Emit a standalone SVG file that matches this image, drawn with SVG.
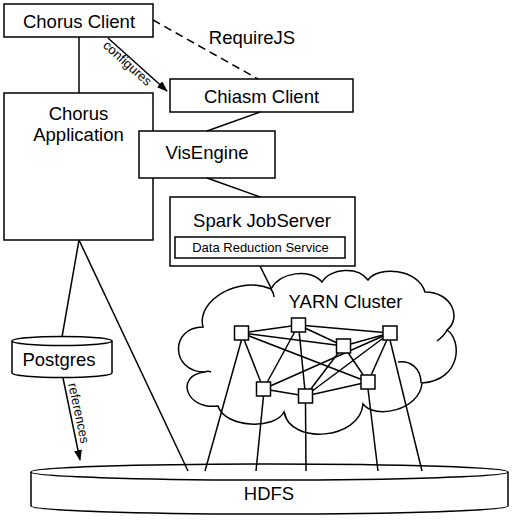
<svg xmlns="http://www.w3.org/2000/svg" width="523" height="522" viewBox="0 0 523 522">
<defs>
<style>
.box{fill:#fff;stroke:#000;stroke-width:1.5}
.ln{fill:none;stroke:#000;stroke-width:1.5}
.sq{fill:#fff;stroke:#000;stroke-width:1.5}
.t{font-family:"Liberation Sans",Arial,sans-serif;font-size:18.5px;fill:#000;text-anchor:middle}
.s{font-family:"Liberation Sans",Arial,sans-serif;font-size:13px;fill:#000;text-anchor:middle}
</style>
<marker id="arr" markerWidth="11" markerHeight="8" refX="10" refY="4" orient="auto" markerUnits="userSpaceOnUse">
<path d="M0,0 L11,4 L0,8 z" fill="#000"/>
</marker>
</defs>
<rect width="523" height="522" fill="#fff"/>

<g id="hdfs">
<path class="box" d="M31,472 L31,506 A238.5,8 0 0 0 508,506 L508,472"/>
<ellipse class="box" cx="269.5" cy="472" rx="238.5" ry="8"/>
<text class="t" x="269" y="500">HDFS</text>
</g>

<g id="postgres">
<path class="box" d="M12,341 L12,373 A50,4.5 0 0 0 112,373 L112,341"/>
<ellipse class="box" cx="62" cy="341" rx="50" ry="4.5"/>
<text class="t" x="59" y="366">Postgres</text>
</g>

<g id="chorus-client">
<rect class="box" x="4" y="4" width="149" height="33"/>
<text class="t" x="79" y="27.5">Chorus Client</text>
</g>

<g id="chorus-application">
<rect class="box" x="4" y="93" width="149" height="147"/>
<text class="t" x="78.5" y="119.5">Chorus</text>
<text class="t" x="78.5" y="140.5">Application</text>
</g>

<g id="chiasm-client">
<rect class="box" x="170" y="79" width="183" height="33"/>
<text class="t" x="261.5" y="102.5">Chiasm Client</text>
</g>

<g id="visengine">
<rect class="box" x="139" y="131" width="136" height="47"/>
<text class="t" x="207" y="158.5">VisEngine</text>
</g>

<g id="spark-jobserver">
<rect class="box" x="170" y="197" width="185" height="69"/>
<text class="t" x="262" y="226.5">Spark JobServer</text>
<g id="data-reduction-service">
<rect class="box" x="175" y="237" width="170" height="21"/>
<text class="s" x="260.5" y="252">Data Reduction Service</text>
</g>
</g>

<g id="yarn-cluster">
<path class="box" d="M203,327 C196,300 240,275 271,289 C280,272 310,268 322,282 C330,268 358,266 368,280 C378,266 418,268 425,292 C452,292 462,318 447,330 C462,340 462,380 422,383 C420,410 375,420 363,404 C360,440 290,445 284,412 C275,430 225,428 218,406 C185,410 175,375 205,372 C170,372 170,327 203,327 Z"/>
<path class="ln" d="M271,289 C273,292 274,294 274,297"/>
<path class="ln" d="M447,330 C445,335 441,338 437,341"/>
<path class="ln" d="M398,362 C410,360 421,368 421,383"/>
<path class="ln" d="M205,372 C207,371 209,371 211,372"/>
<path class="ln" d="M284,412 C285,414 286,416 286,418"/>
<text class="t" x="345.5" y="307.5">YARN Cluster</text>
</g>

<g id="connectors">
<line class="ln" x1="79" y1="37" x2="79" y2="93"/>
<line class="ln" x1="153" y1="20" x2="258" y2="79" stroke-dasharray="8,5"/>
<text class="t" x="252" y="44">RequireJS</text>
<line class="ln" x1="108" y1="38" x2="167" y2="91" marker-end="url(#arr)"/>
<text class="s" transform="translate(124.5,66.5) rotate(41.8)" x="0" y="0">configures</text>
<line class="ln" x1="260" y1="112" x2="207" y2="131"/>
<line class="ln" x1="207" y1="178" x2="260" y2="197"/>
<line class="ln" x1="260" y1="266" x2="271" y2="288"/>
<line class="ln" x1="79" y1="240" x2="62" y2="337"/>
<line class="ln" x1="79" y1="240" x2="188" y2="471"/>
<line class="ln" x1="63" y1="378" x2="80" y2="460" marker-end="url(#arr)"/>
<text class="s" transform="translate(74.5,414) rotate(78)" x="0" y="0">references</text>
<!-- network edges -->
<line class="ln" x1="241.5" y1="333" x2="298.5" y2="325"/>
<line class="ln" x1="241.5" y1="333" x2="343.5" y2="346"/>
<line class="ln" x1="241.5" y1="333" x2="263.5" y2="389"/>
<line class="ln" x1="241.5" y1="333" x2="368" y2="382"/>
<line class="ln" x1="298.5" y1="325" x2="343.5" y2="346"/>
<line class="ln" x1="298.5" y1="325" x2="390" y2="333"/>
<line class="ln" x1="298.5" y1="325" x2="263.5" y2="389"/>
<line class="ln" x1="298.5" y1="325" x2="305.5" y2="396"/>
<line class="ln" x1="343.5" y1="346" x2="390" y2="333"/>
<line class="ln" x1="343.5" y1="346" x2="305.5" y2="396"/>
<line class="ln" x1="343.5" y1="346" x2="368" y2="382"/>
<line class="ln" x1="390" y1="333" x2="263.5" y2="389"/>
<line class="ln" x1="390" y1="333" x2="305.5" y2="396"/>
<line class="ln" x1="390" y1="333" x2="368" y2="382"/>
<line class="ln" x1="263.5" y1="389" x2="305.5" y2="396"/>
<line class="ln" x1="305.5" y1="396" x2="368" y2="382"/>
<!-- to HDFS -->
<line class="ln" x1="241.5" y1="340" x2="205" y2="471"/>
<line class="ln" x1="263.5" y1="396" x2="256" y2="471"/>
<line class="ln" x1="305.5" y1="403" x2="306" y2="471"/>
<line class="ln" x1="368" y1="389" x2="378" y2="471"/>
<line class="ln" x1="390" y1="340" x2="422" y2="471"/>
</g>

<g id="worker-1"><rect class="sq" x="234.5" y="326" width="14" height="14"/></g>
<g id="worker-2"><rect class="sq" x="291.5" y="318" width="14" height="14"/></g>
<g id="worker-3"><rect class="sq" x="336.5" y="339" width="14" height="14"/></g>
<g id="worker-4"><rect class="sq" x="383" y="326" width="14" height="14"/></g>
<g id="worker-5"><rect class="sq" x="256.5" y="382" width="14" height="14"/></g>
<g id="worker-6"><rect class="sq" x="298.5" y="389" width="14" height="14"/></g>
<g id="worker-7"><rect class="sq" x="361" y="375" width="14" height="14"/></g>
</svg>
